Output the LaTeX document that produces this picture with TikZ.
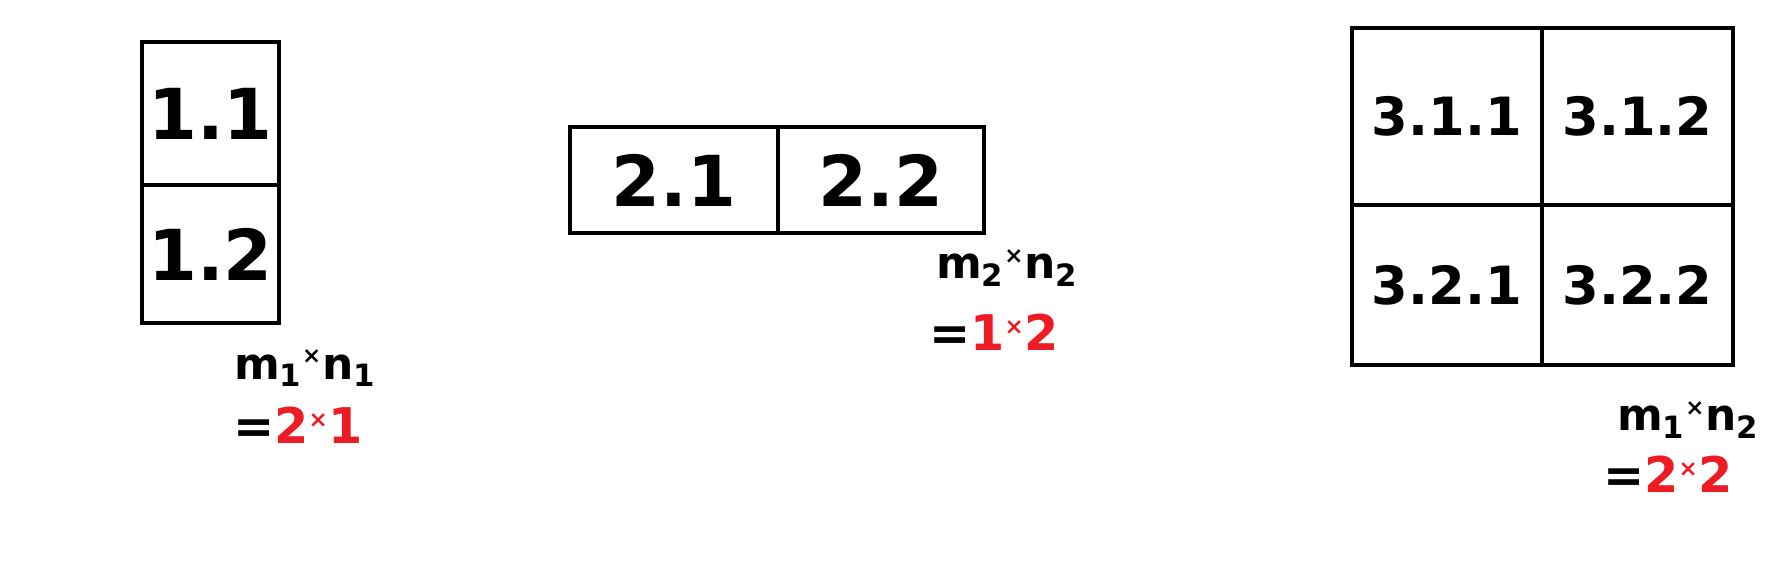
\documentclass[tikz,border=0pt]{standalone}
\usepackage{fontspec}
\setmainfont{DejaVu Sans}
\usetikzlibrary{positioning}
\definecolor{paintred}{RGB}{237,28,36}
\newcommand{\redpart}[1]{\textcolor{paintred}{#1}}
\newcommand{\tms}{\textsuperscript{\fontsize{13}{13}\selectfont ×}}

\begin{document}
\begin{tikzpicture}[
    x=0.02cm, y=-0.02cm,
    cell/.style 2 args={draw, line width=2.3pt, outer sep=0pt, inner sep=0pt, minimum width=#1, minimum height=#2, font=\bfseries\fontsize{40}{42}\selectfont},
    small/.style={font=\bfseries\fontsize{30}{32}\selectfont},
    dims/.style={font=\bfseries\fontsize{25}{27}\selectfont, inner sep=0pt},
    result/.style={font=\bfseries\fontsize{28}{30}\selectfont, inner sep=0pt}
]
    \useasboundingbox[fill=white] (0,0) rectangle (1770,570);

    % First grid (2 x 1)
    \node[cell={2.74cm}{2.86cm}] (c11) at (210.5,113.5) {1.1};
    \node[cell={2.74cm}{2.76cm}, below=0pt of c11] (c12) {1.2};

    % Second grid (1 x 2)
    \node[cell={4.16cm}{2.12cm}] (c21) at (674,180) {2.1};
    \node[cell={4.12cm}{2.12cm}, right=0pt of c21] (c22) {2.2};

    % Third grid (2 x 2)
    \node[cell={3.8cm}{3.54cm}, small] (c311) at (1447,116.5) {3.1.1};
    \node[cell={3.82cm}{3.54cm}, small, right=0pt of c311] (c312) {3.1.2};
    \node[cell={3.8cm}{3.2cm}, small, below=0pt of c311] (c321) {3.2.1};
    \node[cell={3.82cm}{3.2cm}, small, below=0pt of c312] (c322) {3.2.2};

    % Sizes
    \node[dims] (d1) at (305,368) {m\textsubscript{1}\tms n\textsubscript{1}};
    \node[result] (r1) at (298,425) {=\redpart{2\tms 1}};

    \node[dims] (d2) at (1007,268) {m\textsubscript{2}\tms n\textsubscript{2}};
    \node[result] (r2) at (994,332) {=\redpart{1\tms 2}};

    \node[dims] (d3) at (1688,420) {m\textsubscript{1}\tms n\textsubscript{2}};
    \node[result] (r3) at (1668,474) {=\redpart{2\tms 2}};

\end{tikzpicture}
\end{document}
